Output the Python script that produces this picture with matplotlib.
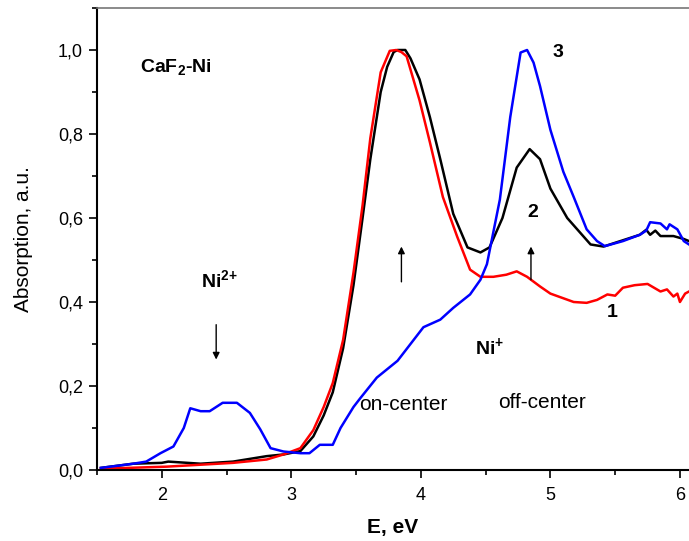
import matplotlib
matplotlib.use('Agg')
import matplotlib.pyplot as plt
from matplotlib.ticker import MultipleLocator

plt.rcParams['font.family'] = 'Liberation Sans'
plt.rcParams['mathtext.fontset'] = 'custom'
plt.rcParams['mathtext.rm'] = 'Liberation Sans:bold'
plt.rcParams['mathtext.bf'] = 'Liberation Sans:bold'
plt.rcParams['mathtext.default'] = 'rm'

# curve 1 (red)
e1 = [1.53, 2.04, 2.55, 2.81, 2.94, 3.07, 3.17, 3.25, 3.32, 3.40, 3.48, 3.55, 3.61, 3.69,
      3.76, 3.81, 3.85, 3.89, 3.99, 4.07, 4.17, 4.28, 4.38, 4.46, 4.56, 4.66, 4.74, 4.82,
      4.92, 5.0, 5.18, 5.28, 5.36, 5.44, 5.50, 5.56, 5.65, 5.75, 5.85, 5.90, 5.95, 5.98,
      6.0, 6.04, 6.07]
a1 = [0.003, 0.008, 0.017, 0.025, 0.037, 0.052, 0.095, 0.15, 0.207, 0.31, 0.47, 0.63, 0.79, 0.947,
      0.998, 1.0, 0.995, 0.985, 0.88, 0.78, 0.65, 0.556, 0.477, 0.46, 0.46, 0.465, 0.473, 0.46,
      0.437, 0.42, 0.40, 0.398, 0.405, 0.418, 0.415, 0.434, 0.44, 0.443, 0.425, 0.43, 0.413, 0.42,
      0.40, 0.42, 0.425]

# curve 2 (black)
e2 = [1.53, 1.78, 2.0, 2.05, 2.3, 2.55, 2.81, 2.94, 3.07, 3.17, 3.25, 3.32, 3.40, 3.48,
      3.55, 3.61, 3.69, 3.74, 3.79, 3.82, 3.88, 3.92, 3.99, 4.07, 4.15, 4.25, 4.36, 4.46,
      4.53, 4.63, 4.74, 4.84, 4.92, 5.0, 5.13, 5.31, 5.41, 5.56, 5.69, 5.74, 5.77, 5.81,
      5.85, 5.95, 6.03, 6.07]
a2 = [0.005, 0.015, 0.017, 0.02, 0.015, 0.02, 0.033, 0.037, 0.045, 0.08, 0.13, 0.185, 0.29, 0.44,
      0.60, 0.74, 0.90, 0.96, 0.995, 1.0, 1.0, 0.98, 0.93, 0.84, 0.74, 0.61, 0.53, 0.518,
      0.53, 0.60, 0.72, 0.764, 0.74, 0.67, 0.60, 0.537, 0.532, 0.547, 0.56, 0.572, 0.56, 0.57,
      0.557, 0.557, 0.55, 0.545]

# curve 3 (blue)
e3 = [1.53, 1.78, 1.88, 1.99, 2.09, 2.17, 2.22, 2.3, 2.37, 2.47, 2.58, 2.68, 2.76, 2.84,
      2.94, 3.07, 3.14, 3.22, 3.32, 3.38, 3.48, 3.53, 3.66, 3.82, 3.92, 4.02, 4.15, 4.25,
      4.38, 4.46, 4.51, 4.61, 4.69, 4.77, 4.82, 4.87, 4.92, 5.0, 5.10, 5.18, 5.28, 5.36,
      5.42, 5.56, 5.69, 5.74, 5.77, 5.85, 5.90, 5.92, 5.98, 6.03, 6.07]
a3 = [0.005, 0.015, 0.02, 0.04, 0.056, 0.1, 0.147, 0.14, 0.14, 0.16, 0.16, 0.136, 0.097, 0.052,
      0.044, 0.04, 0.04, 0.06, 0.06, 0.1, 0.15, 0.17, 0.22, 0.26, 0.30, 0.34, 0.358, 0.386,
      0.418, 0.453, 0.49, 0.644, 0.84, 0.994, 1.0, 0.97, 0.914, 0.81, 0.71, 0.65, 0.573, 0.545,
      0.533, 0.545, 0.56, 0.57, 0.59, 0.587, 0.573, 0.585, 0.573, 0.545, 0.537]

xticks = [2, 3, 4, 5, 6]
yticks = [0.0, 0.2, 0.4, 0.6, 0.8, 1.0]
ytick_labels = ['0,0', '0,2', '0,4', '0,6', '0,8', '1,0']

fig = plt.figure(figsize=(6.89, 5.41), dpi=100)
ax = fig.add_axes([97 / 689, 71 / 541, 1 - 97 / 689, 462 / 541])

ax.plot(e2, a2, color='black', lw=1.8)
ax.plot(e1, a1, color='#ff0000', lw=1.8)
ax.plot(e3, a3, color='#0000ff', lw=1.8)

ax.set_xlim(1.5, 6.07)
ax.set_ylim(0, 1.10)
ax.set_xticks(xticks)
ax.set_xticklabels([str(t) for t in xticks])
ax.set_yticks(yticks)
ax.set_yticklabels(ytick_labels)
ax.xaxis.set_minor_locator(MultipleLocator(0.5))
ax.yaxis.set_minor_locator(MultipleLocator(0.1))
ax.tick_params(which='major', direction='out', length=6, width=1.2, labelsize=13, pad=4)
ax.tick_params(which='minor', direction='out', length=3.5, width=1.2)
ax.tick_params(axis='x', pad=6)

ax.spines['right'].set_visible(False)
ax.spines['top'].set_color('#777777')
ax.spines['top'].set_linewidth(1.2)
ax.spines['left'].set_linewidth(1.5)
ax.spines['bottom'].set_linewidth(1.5)

ax.set_xlabel('E, eV', fontsize=15, fontweight='bold', labelpad=10)
ax.set_ylabel('Absorption, a.u.', fontsize=15, labelpad=18)

ax.text(1.83, 0.96, 'CaF$_2$-Ni', fontsize=14, fontweight='bold', va='center')
ax.text(2.30, 0.453, 'Ni$^{2{+}}$', fontsize=14, fontweight='bold', va='center')
ax.text(4.42, 0.294, 'Ni$^{{+}}$', fontsize=14, fontweight='bold', va='center')
ax.text(3.52, 0.155, 'on-center', fontsize=15, va='center')
ax.text(4.60, 0.16, 'off-center', fontsize=15, va='center')
ax.text(5.06, 0.995, '3', fontsize=14, fontweight='bold', ha='center', va='center')
ax.text(4.86, 0.613, '2', fontsize=14, fontweight='bold', ha='center', va='center')
ax.text(5.48, 0.375, '1', fontsize=14, fontweight='bold', ha='center', va='center')

arrow = dict(arrowstyle='-|>', color='black', lw=1.0, mutation_scale=10, shrinkA=0, shrinkB=0)
ax.annotate('', xy=(2.42, 0.263), xytext=(2.42, 0.346), arrowprops=arrow)
ax.annotate('', xy=(3.85, 0.532), xytext=(3.85, 0.448), arrowprops=arrow)
ax.annotate('', xy=(4.85, 0.532), xytext=(4.85, 0.453), arrowprops=arrow)

fig.savefig('out.png', dpi=100)
